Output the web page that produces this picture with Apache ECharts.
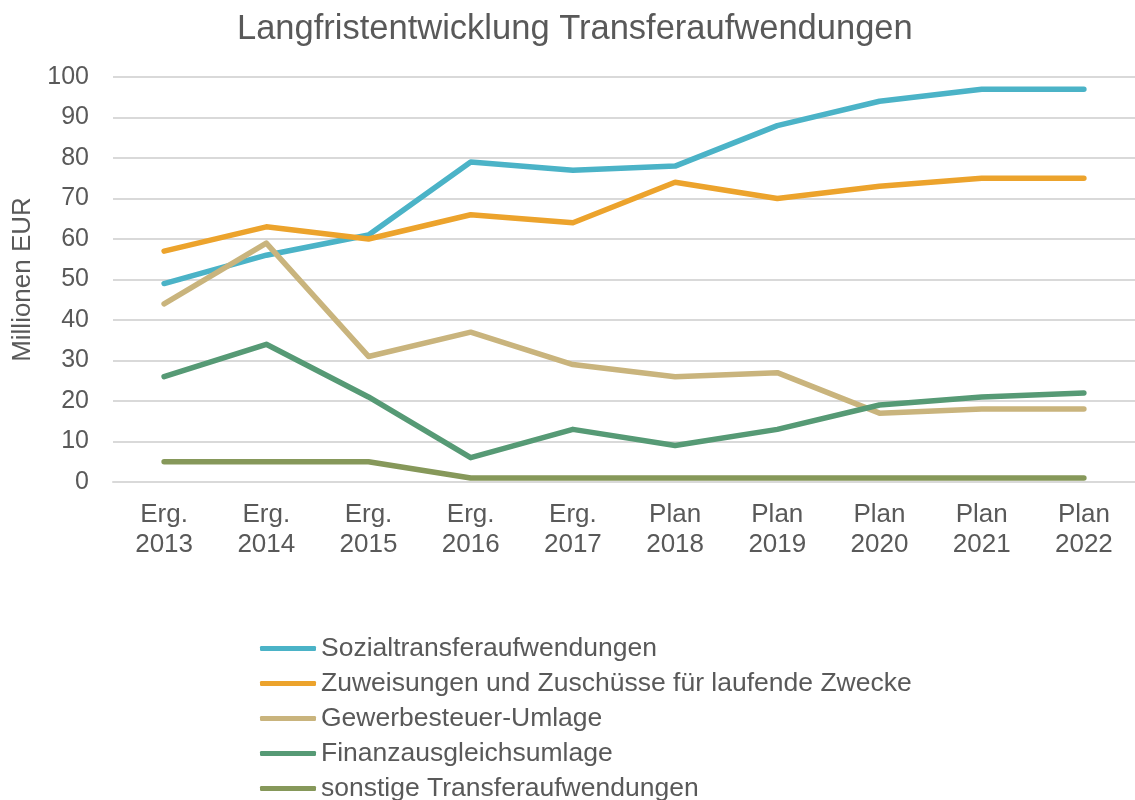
<!DOCTYPE html>
<html>
<head>
<meta charset="utf-8">
<script src="https://cdn.jsdelivr.net/npm/echarts@6/dist/echarts.min.js"></script>
<style>
html,body{margin:0;padding:0;background:#fff;}
#chart{width:1135px;height:800px;}
</style>
</head>
<body>
<div id="chart"></div>
<script>
const categories = ['Erg.\n2013','Erg.\n2014','Erg.\n2015','Erg.\n2016','Erg.\n2017','Plan\n2018','Plan\n2019','Plan\n2020','Plan\n2021','Plan\n2022'];
const sozial = [49, 56, 61, 79, 77, 78, 88, 94, 97, 97];
const zuweisungen = [57, 63, 60, 66, 64, 74, 70, 73, 75, 75];
const gewerbe = [44, 59, 31, 37, 29, 26, 27, 17, 18, 18];
const finanz = [26, 34, 21, 6, 13, 9, 13, 19, 21, 22];
const sonstige = [5, 5, 5, 1, 1, 1, 1, 1, 1, 1];
const seriesNames = ['Sozialtransferaufwendungen','Zuweisungen und Zuschüsse für laufende Zwecke','Gewerbesteuer-Umlage','Finanzausgleichsumlage','sonstige Transferaufwendungen'];
const seriesData = [sozial, zuweisungen, gewerbe, finanz, sonstige];
const colors = ['#4BB3C7','#ECA32C','#C9B47D','#569A75','#86985A'];

const font = '"Liberation Sans", Arial, sans-serif';
const textColor = '#595959';

const chart = echarts.init(document.getElementById('chart'), null, {renderer:'canvas'});
chart.setOption({
  animation: false,
  backgroundColor: '#fff',
  color: colors,
  title: {
    text: 'Langfristentwicklung Transferaufwendungen',
    left: 232,
    top: 7,
    textStyle: {fontFamily: font, fontSize: 34.5, fontWeight: 'normal', color: textColor}
  },
  legend: {
    orient: 'vertical',
    left: 255,
    top: 630,
    height: 200,
    itemWidth: 56,
    itemHeight: 5,
    itemGap: 8,
    icon: 'roundRect',
    textStyle: {fontFamily: font, fontSize: 26.5, color: textColor, lineHeight: 26},
    data: seriesNames
  },
  grid: {left: 113, top: 77, width: 1035, height: 405, containLabel: false},
  xAxis: {
    type: 'category',
    data: categories,
    boundaryGap: true,
    axisLine: {lineStyle: {color: '#d9d9d9', width: 2}},
    axisTick: {show: false},
    axisLabel: {fontFamily: font, fontSize: 26, color: textColor, lineHeight: 30, margin: 18, interval: 0}
  },
  yAxis: {
    type: 'value',
    min: 0, max: 100, interval: 10,
    name: 'Millionen EUR',
    nameLocation: 'middle',
    nameGap: 77,
    nameTextStyle: {fontFamily: font, fontSize: 26, color: textColor},
    axisLine: {show: false},
    axisTick: {show: false},
    splitLine: {lineStyle: {color: '#d9d9d9', width: 2}},
    axisLabel: {fontFamily: font, fontSize: 25, color: textColor, margin: 24}
  },
  series: seriesData.map((d, i) => ({
    name: seriesNames[i],
    type: 'line',
    data: d,
    symbol: 'none',
    showSymbol: false,
    lineStyle: {width: 5.5, color: colors[i], cap: 'round', join: 'round'},
    itemStyle: {color: colors[i]}
  }))
});
</script>
</body>
</html>
